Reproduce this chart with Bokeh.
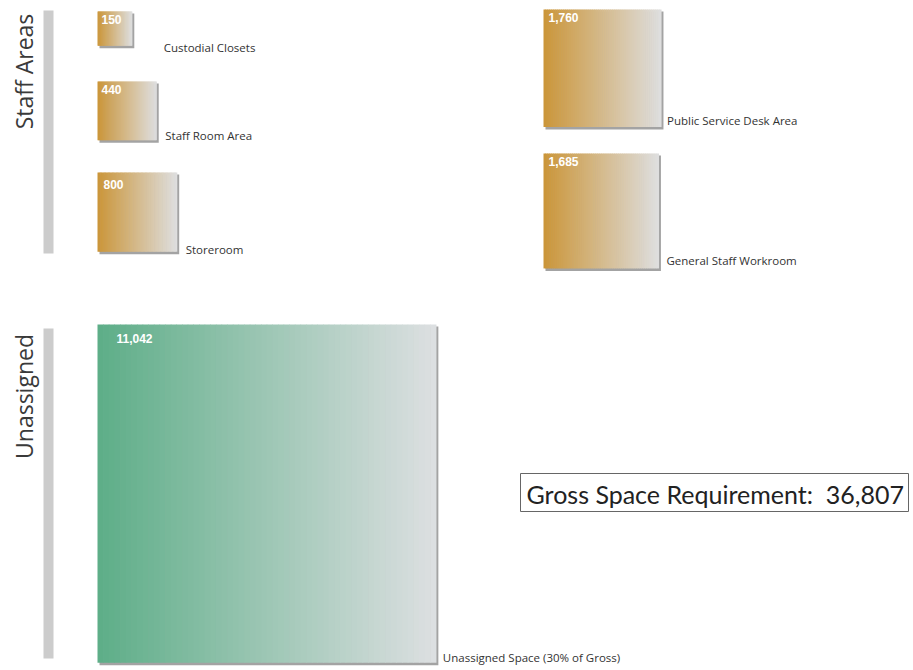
from bokeh.plotting import figure
from bokeh.models import Range1d, ColumnDataSource
from bokeh.core.properties import value
from bokeh.embed import file_html
from bokeh.resources import INLINE
import math

# ---------------- data ----------------
categories = ["Custodial Closets", "Staff Room Area", "Storeroom",
              "Public Service Desk Area", "General Staff Workroom",
              "Unassigned Space (30% of Gross)"]
values = [150, 440, 800, 1760, 1685, 11042]
groups = ["Staff Areas", "Staff Areas", "Staff Areas", "Staff Areas", "Staff Areas", "Unassigned"]
group_names = ["Staff Areas", "Unassigned"]
gross_total = 36807

# ---------------- layout / style (screen px, top-down) ----------------
W, H = 913, 670
box_anchor = [(97, 11), (97, 81), (97, 172), (543, 9), (543, 153), (97, 324)]
label_offset = [(32, 2), (9, -5), (9, -2), (6, -6), (8, -8), (7, -5)]
value_offset = [(4, 3), (4, 3), (6, 7), (5, 3), (5, 3), (19, 9)]
group_scale = {"Staff Areas": 2.8, "Unassigned": 3.22}
group_bar = {"Staff Areas": (43, 10, 53, 253), "Unassigned": (43, 328, 53, 658)}
group_label_pos = {"Staff Areas": (23, 71), "Unassigned": (23, 396)}
grad = {"Staff Areas": ((203, 150, 58), (222, 222, 222)),
        "Unassigned": ((94, 174, 136), (220, 223, 225))}


def X(sx):
    return sx


def Y(sy):
    return H - sy


p = figure(width=W, height=H, output_backend="svg", toolbar_location=None,
           x_range=Range1d(0, W), y_range=Range1d(0, H), min_border=0)
p.axis.visible = False
p.grid.visible = False
p.outline_line_color = None
p.background_fill_color = "white"
p.border_fill_color = "white"

# group bars and labels
for g in group_names:
    x0, y0, x1, y1 = group_bar[g]
    p.quad(left=[X(x0)], right=[X(x1)], top=[Y(y0)], bottom=[Y(y1)],
           fill_color="#cccccc", line_color=None)
    gx, gy = group_label_pos[g]
    p.text(x=[X(gx)], y=[Y(gy)], text=[g], angle=math.pi / 2,
           text_align="center", text_baseline="middle",
           text_font=value("Open Sans"), text_font_size="23px",
           text_color="#3a3a3a")

N = 60
strip = dict(left=[], right=[], top=[], bottom=[], color=[])
shadow = dict(left=[], right=[], top=[], bottom=[])
labels = dict(x=[], y=[], text=[])
vlabels = dict(x=[], y=[], text=[])

for cat, v, g, (ax, ay), (lx, ly), (vx, vy) in zip(
        categories, values, groups, box_anchor, label_offset, value_offset):
    side = group_scale[g] * math.sqrt(v)
    left, top = ax, ay
    right, bottom = ax + side, ay + side
    shadow["left"].append(X(left + 2))
    shadow["right"].append(X(right + 2.5))
    shadow["top"].append(Y(top + 2))
    shadow["bottom"].append(Y(bottom + 2.5))
    c0, c1 = grad[g]
    for i in range(N):
        t = i / (N - 1)
        c = tuple(int(round(c0[k] + (c1[k] - c0[k]) * t)) for k in range(3))
        strip["left"].append(X(left + side * i / N))
        strip["right"].append(X(left + side * (i + 1) / N + 0.6))
        strip["top"].append(Y(top))
        strip["bottom"].append(Y(bottom))
        strip["color"].append("#%02x%02x%02x" % c)
    labels["x"].append(X(right + lx))
    labels["y"].append(Y(bottom + ly))
    labels["text"].append(cat)
    vlabels["x"].append(X(left + vx))
    vlabels["y"].append(Y(top + vy))
    vlabels["text"].append(f"{v:,}")

p.quad(source=ColumnDataSource(shadow), left="left", right="right", top="top",
       bottom="bottom", fill_color="#a3a3a3", line_color=None)
p.quad(source=ColumnDataSource(strip), left="left", right="right", top="top",
       bottom="bottom", fill_color="color", line_color=None)
p.text(source=ColumnDataSource(labels), x="x", y="y", text="text",
       text_align="left", text_baseline="middle",
       text_font=value("Open Sans"), text_font_size="11.5px", text_color="#333333")
p.text(source=ColumnDataSource(vlabels), x="x", y="y", text="text",
       text_align="left", text_baseline="top",
       text_font=value("Liberation Sans"), text_font_style="bold",
       text_font_size="12px", text_color="white")

# gross requirement box
p.quad(left=[X(520)], right=[X(908)], top=[Y(473)], bottom=[Y(511)],
       fill_color="white", line_color="#666666", line_width=1)
p.text(x=[X(526)], y=[Y(493)],
       text=[f"Gross Space Requirement: \u00a0{gross_total:,}"],
       text_align="left", text_baseline="middle",
       text_font=value("Lato"), text_font_size="25px", text_color="#222222")

open("out.html", "w").write(file_html(p, INLINE))
